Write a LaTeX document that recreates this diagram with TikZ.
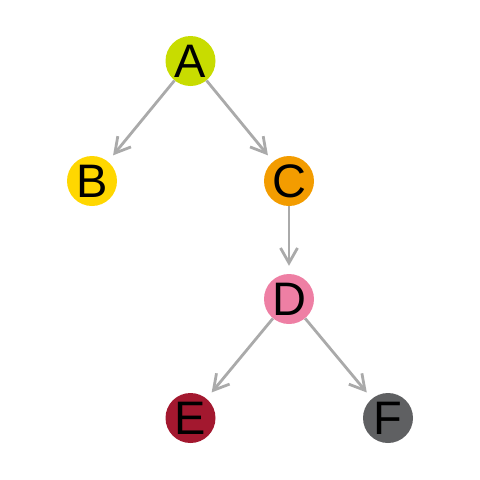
\documentclass[tikz,border=0pt]{standalone}
\usepackage{fontspec}
\setmainfont{Liberation Sans}
\usetikzlibrary{arrows.meta}
\definecolor{cA}{HTML}{C8DC00}
\definecolor{cB}{HTML}{FFD700}
\definecolor{cC}{HTML}{F39C00}
\definecolor{cD}{HTML}{EE7FA4}
\definecolor{cE}{HTML}{A3182F}
\definecolor{cF}{HTML}{5F6062}
\definecolor{edgegray}{HTML}{AAAAAA}
\begin{document}
\begin{tikzpicture}[x=1pt,y=-1pt,
  vertex/.style={circle,minimum size=50pt,inner sep=0pt,
    font=\fontsize{47}{47}\selectfont},
  link/.style={draw=edgegray,line width=2.8pt,
    -{Straight Barb[length=15pt,width=17pt,line width=2.8pt]},shorten >=8pt}]
\useasboundingbox (0,0) rectangle (480,480);
\node[vertex,fill=cA] (A) at (190.5,61) {A};
\node[vertex,fill=cB] (B) at (92,181) {B};
\node[vertex,fill=cC] (C) at (289,181) {C};
\node[vertex,fill=cD] (D) at (289,299) {D};
\node[vertex,fill=cE] (E) at (190.5,418) {E};
\node[vertex,fill=cF] (F) at (388,418) {F};
\draw[link] (A) -- (B);
\draw[link] (A) -- (C);
\draw[link] (C) -- (D);
\draw[link] (D) -- (E);
\draw[link] (D) -- (F);
\end{tikzpicture}
\end{document}
